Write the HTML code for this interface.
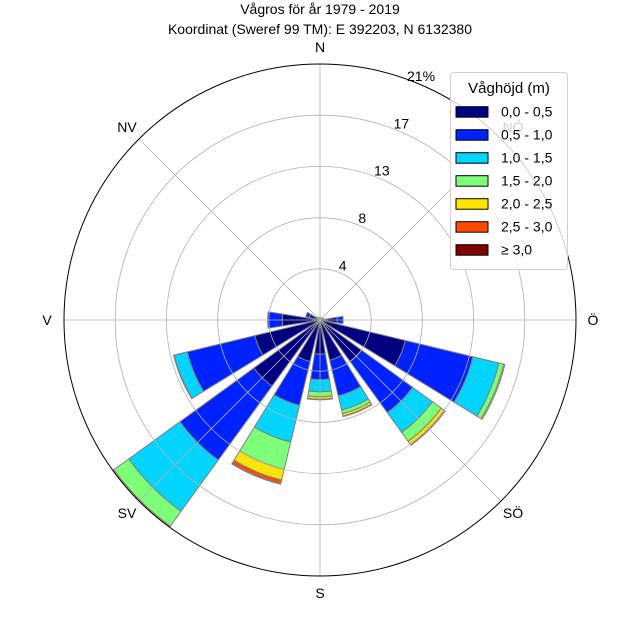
<!DOCTYPE html>
<html><head><meta charset="utf-8">
<style>
html,body{margin:0;padding:0;background:#fff;}
svg{display:block;font-family:"Liberation Sans",sans-serif;}
</style></head>
<body>
<svg id="chart" width="640" height="640" viewBox="0 0 640 640" xmlns="http://www.w3.org/2000/svg">
  <rect width="640" height="640" fill="#fff"/>
  <text x="320" y="14" text-anchor="middle" font-size="14" fill="#000">Vågros för år 1979 - 2019</text>
  <text x="320" y="34" text-anchor="middle" font-size="14" fill="#000">Koordinat (Sweref 99 TM): E 392203, N 6132380</text>
  <g id="bars"></g>
  <g id="grid"></g>
  <g id="labels"></g>
  <g id="legend"></g>
</svg>
<script>
const directions = ["N","NNÖ","NÖ","ÖNÖ","Ö","ÖSÖ","SÖ","SSÖ","S","SSV","SV","VSV","V","VNV","NV","NNV"];
const binLabels = ["0,0 - 0,5","0,5 - 1,0","1,0 - 1,5","1,5 - 2,0","2,0 - 2,5","2,5 - 3,0","≥ 3,0"];
const bin0 = [0.2,0.2,0.2,0.3,1.4,7.2,4.2,3.4,2.8,3.5,6.7,5.5,3.1,0.9,0.3,0.2];
const bin1 = [0,0,0,0,0.5,5.7,5.2,3.0,2.1,3.7,7.5,5.7,1.2,0.3,0,0];
const bin2 = [0,0,0,0,0,2.2,2.0,1.2,1.0,3.1,5.2,1.1,0,0,0,0];
const bin3 = [0,0,0,0,0,0.4,0.9,0.3,0.4,2.3,1.5,0.05,0,0,0,0];
const bin4 = [0,0,0,0,0,0.1,0.3,0.2,0.2,0.9,0.1,0,0,0,0,0];
const bin5 = [0,0,0,0,0,0,0.1,0.05,0.05,0.3,0,0,0,0,0,0];
const bin6 = [0,0,0,0,0,0,0,0,0,0.05,0,0,0,0,0,0];
const ringTicks = ["4","8","13","17","21%"];
const compassLabels = ["N","NÖ","Ö","SÖ","S","SV","V","NV"];

const bins = [bin0,bin1,bin2,bin3,bin4,bin5,bin6];
const colors = ["#000080","#0022ff","#00d4ff","#7dff7a","#ffe500","#ff4a00","#800000"];
const NS = "http://www.w3.org/2000/svg";
const cx = 320, cy = 320, R = 256, rMax = 21;
function rScale(v){ return v / rMax * R; }
function pt(r, bearingDeg){ const a = bearingDeg*Math.PI/180; return [cx + r*Math.sin(a), cy - r*Math.cos(a)]; }
function mk(tag, attrs){ const e = document.createElementNS(NS, tag); for (const k in attrs) e.setAttribute(k, attrs[k]); return e; }

const barsG = document.getElementById('bars');
const step = 360 / directions.length, half = step*0.8/2;
directions.forEach((d, i) => {
  const b = i*step;
  let cum = 0;
  bins.forEach((bin, j) => {
    const v = bin[i];
    if (v <= 0) return;
    const r0 = rScale(cum), r1 = rScale(cum + v);
    cum += v;
    const p1 = pt(r0, b-half), p2 = pt(r1, b-half), p3 = pt(r1, b+half), p4 = pt(r0, b+half);
    const dPath = `M${p1[0]},${p1[1]} L${p2[0]},${p2[1]} A${r1},${r1} 0 0 1 ${p3[0]},${p3[1]} L${p4[0]},${p4[1]} A${r0},${r0} 0 0 0 ${p1[0]},${p1[1]} Z`;
    const path = mk('path', {d: dPath, fill: colors[j], stroke: '#808080', 'stroke-width': 1});
    
    
    barsG.appendChild(path);
  });
});

const gridG = document.getElementById('grid');
for (let k = 1; k <= 4; k++) {
  const c = mk('circle', {cx, cy, r: R*k/5, fill: 'none', stroke: '#b0b0b0', 'stroke-width': 0.8});
  
  
  gridG.appendChild(c);
}
for (let k = 0; k < 8; k++) {
  const p = pt(R, k*45);
  const l = mk('line', {x1: cx, y1: cy, x2: p[0], y2: p[1], stroke: '#b0b0b0', 'stroke-width': 0.8});
  
  
  gridG.appendChild(l);
}
const outer = mk('circle', {cx, cy, r: R, fill: 'none', stroke: '#000', 'stroke-width': 1});


gridG.appendChild(outer);

const labG = document.getElementById('labels');
compassLabels.forEach((t, k) => {
  const p = pt(R + 17, k*45);
  const tx = mk('text', {x: p[0], y: p[1] + 5, 'text-anchor': 'middle', 'font-size': 14, fill: '#000'});
  tx.textContent = t;
  
  
  labG.appendChild(tx);
});
ringTicks.forEach((t, k) => {
  const r = R*(k+1)/5;
  const p = pt(r + 8, 22.5);
  const tx = mk('text', {x: p[0], y: p[1] + 5, 'text-anchor': 'middle', 'font-size': 14, fill: '#000'});
  tx.textContent = t;
  
  
  labG.appendChild(tx);
});

const legG = document.getElementById('legend');
const box = mk('rect', {x: 450.5, y: 72.5, width: 117, height: 197, rx: 3, fill: 'rgba(255,255,255,0.8)', stroke: '#d0d0d0'});


legG.appendChild(box);
const lt = mk('text', {x: 509, y: 93, 'text-anchor': 'middle', 'font-size': 15, fill: '#000'});
lt.textContent = 'Våghöjd (m)';


legG.appendChild(lt);
binLabels.forEach((t, j) => {
  const y = 111.7 + j*23;
  const g = mk('g', {});
  
  
  const r = mk('rect', {x: 456, y: y-5, width: 32, height: 10.5, fill: colors[j], stroke: '#000', 'stroke-width': 1});
  
  
  const tx = mk('text', {x: 501, y: y + 5, 'font-size': 14, fill: '#000'});
  tx.textContent = t;
  
  
  g.appendChild(r); g.appendChild(tx);
  legG.appendChild(g);
});
</script>
</body></html>
